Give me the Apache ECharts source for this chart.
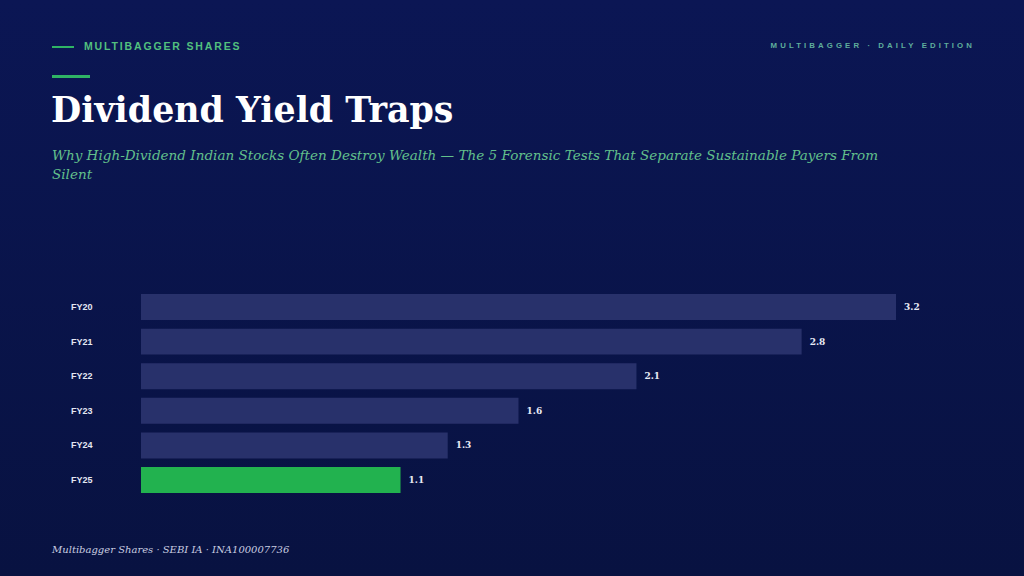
<!DOCTYPE html>
<html>
<head>
<meta charset="utf-8">
<script src="https://cdn.jsdelivr.net/npm/echarts@6/dist/echarts.min.js"></script>
<style>
  html, body { margin:0; padding:0; width:1024px; height:576px; overflow:hidden; }
  body { background: linear-gradient(180deg, #0b1654 0%, #081241 100%); position:relative; font-family: "Liberation Serif", serif; }
  #chart { position:absolute; left:0; top:0; width:1024px; height:576px; }
  .abs { position:absolute; white-space:nowrap; }
  #kick-line { left:52px; top:46px; width:22px; height:2px; background:#2fb465; }
  #kicker { left:84px; top:40px; font-family:"Liberation Sans", Arial, sans-serif; font-weight:bold; font-size:10.5px; letter-spacing:1.85px; color:#52c07e; }
  #edition { right:49px; top:41px; font-family:"Liberation Sans", Arial, sans-serif; font-weight:bold; font-size:7.8px; letter-spacing:3.1px; color:#5fae9c; }
  #rule { left:52px; top:75px; width:38px; height:3px; background:#2fb465; }
  #title { left:51px; top:89px; font-family:"DejaVu Serif", serif; font-weight:bold; font-size:34.8px; color:#ffffff; }
  #subtitle { left:52px; top:146px; font-family:"DejaVu Serif", serif; font-style:italic; font-size:13.55px; line-height:19px; color:#62c08c; }
  #footer { left:52px; top:544px; font-family:"DejaVu Serif", serif; font-style:italic; font-size:10px; color:#c9cde0; }
</style>
</head>
<body>
<div id="chart"></div>
<div class="abs" id="kick-line"></div>
<div class="abs" id="kicker">MULTIBAGGER SHARES</div>
<div class="abs" id="edition">MULTIBAGGER · DAILY EDITION</div>
<div class="abs" id="rule"></div>
<div class="abs" id="title">Dividend Yield Traps</div>
<div class="abs" id="subtitle">Why High-Dividend Indian Stocks Often Destroy Wealth — The 5 Forensic Tests That Separate Sustainable Payers From<br>Silent</div>
<div class="abs" id="footer">Multibagger Shares · SEBI IA · INA100007736</div>
<script>
const categories = ["FY20", "FY21", "FY22", "FY23", "FY24", "FY25"];
const values = [3.2, 2.8, 2.1, 1.6, 1.3, 1.1];
const highlightCategory = "FY25";

const chart = echarts.init(document.getElementById('chart'), null, { renderer: 'svg' });
chart.setOption({
  backgroundColor: 'transparent',
  animation: false,
  grid: { left: 141, right: 128, top: 289.7, height: 207.6, containLabel: false },
  xAxis: { type: 'value', min: 0, max: 3.2, show: false },
  yAxis: {
    type: 'category', data: categories, inverse: true,
    axisLine: { show: false }, axisTick: { show: false }, splitLine: { show: false },
    axisLabel: { align: 'left', margin: 70, color: '#e4e7f2', fontFamily: 'Liberation Sans, Arial, sans-serif', fontWeight: 'bold', fontSize: 9, padding: [0, 0, 4, 0] }
  },
  series: [{
    type: 'bar',
    data: values.map((v, i) => ({
      value: v,
      itemStyle: { color: categories[i] === highlightCategory ? '#22b24f' : '#28316b' }
    })),
    barCategoryGap: '25%',
    label: {
      show: true, position: 'right', distance: 8,
      color: '#e8eaf4', fontFamily: 'DejaVu Serif, serif', fontWeight: 'bold', fontSize: 9,
      formatter: p => p.value.toFixed(1)
    }
  }]
});
</script>
</body>
</html>
